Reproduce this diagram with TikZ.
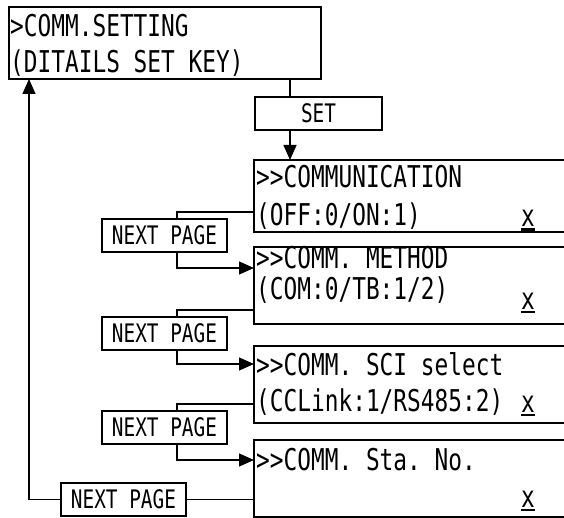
\documentclass[tikz,border=0pt]{standalone}
\usepackage{fontspec}
\usepackage{tikz}
\usetikzlibrary{arrows.meta,positioning,calc}
\newfontfamily\lcd[FakeStretch=0.76]{DejaVu Sans Mono}
\newcommand{\dgt}{>\kern0pt>}
\newcommand{\ulx}{\setbox0\hbox{x}\rlap{x}\rule[-4pt]{\wd0}{2.5pt}}

\begin{document}
\begin{tikzpicture}[x=1pt, y=-1pt]
    % Define styles
    \tikzstyle{screen} = [rectangle, draw=black, line width=2pt, inner sep=0pt, outer sep=0pt, anchor=north west, minimum width=312pt]
    \tikzstyle{keybox} = [rectangle, draw=black, line width=1.8pt, inner sep=0pt, outer sep=0pt, anchor=north west, minimum width=125pt, minimum height=33pt, font=\lcd\fontsize{25.5pt}{25.5pt}\selectfont\frenchspacing]
    \tikzstyle{txt} = [inner sep=0pt, anchor=base west, font=\lcd\fontsize{30pt}{30pt}\selectfont\frenchspacing]
    \tikzstyle{link} = [line width=1.4pt]
    \tikzstyle{arrow} = [link, -{Triangle[length=15pt,width=13pt]}]

    \useasboundingbox (0,0) rectangle (564,518);

    % Screens
    \node [screen, minimum height=72pt] (top) at (9,7) {};
    \node [txt] (top-a) at (10,37) {>COMM.SETTING};
    \node [txt] (top-b) at (10,73) {(DITAILS SET KEY)};

    \node [keybox, minimum width=127pt] (set) at (255,97) {SET};

    \node [screen, minimum height=72pt] (comm) at (254,160) {};
    \node [txt] (comm-a) at (256,188) {\dgt COMMUNICATION};
    \node [txt] (comm-b) at (256,226) {(OFF:0/ON:1)};
    \node [txt] (comm-x) at (521,227) {\ulx};

    \node [screen, minimum height=77pt] (method) at (254,247) {};
    \node [txt] (method-a) at (256,269) {\dgt COMM. METHOD};
    \node [txt] (method-b) at (256,299) {(COM:0/TB:1/2)};
    \node [txt] (method-x) at (521,309) {\ulx};

    \node [screen, minimum height=77pt] (sci) at (254,346) {};
    \node [txt] (sci-a) at (256,375) {\dgt COMM. SCI select};
    \node [txt] (sci-b) at (256,411) {(CCLink:1/RS485:2)};
    \node [txt] (sci-x) at (521,412) {\ulx};

    \node [screen, minimum height=77pt] (sta) at (254,440) {};
    \node [txt] (sta-a) at (256,470) {\dgt COMM. Sta. No.};
    \node [txt] (sta-x) at (521,507) {\ulx};

    % Keys
    \node [keybox] (next1) at (102,219) {NEXT PAGE};
    \node [keybox] (next2) at (102,317) {NEXT PAGE};
    \node [keybox] (next3) at (102,411) {NEXT PAGE};
    \node [keybox] (next4) at (61,483) {NEXT PAGE};

    % Arrows
    \coordinate (spine) at (290,0);
    \coordinate (npx) at (177,0);
    \coordinate (backx) at (29,0);
    \draw [link] (top.south -| spine) -- (set.north -| spine);
    \draw [arrow] (set.south -| spine) -- (comm.north -| spine);
    \draw [link] ($(comm.north west)+(0,52)$) -| (next1.north -| npx);
    \draw [arrow] (next1.south -| npx) |- ($(method.north west)+(0,21)$);
    \draw [link] ($(method.north west)+(0,63)$) -| (next2.north -| npx);
    \draw [arrow] (next2.south -| npx) |- ($(sci.north west)+(0,18)$);
    \draw [link] ($(sci.north west)+(0,58)$) -| (next3.north -| npx);
    \draw [arrow] (next3.south -| npx) |- ($(sta.north west)+(0,20)$);
    \draw [link] (sta.west |- next4.east) -- (next4.east);
    \draw [arrow] (next4.west) -| (top.south -| backx);
\end{tikzpicture}
\end{document}
